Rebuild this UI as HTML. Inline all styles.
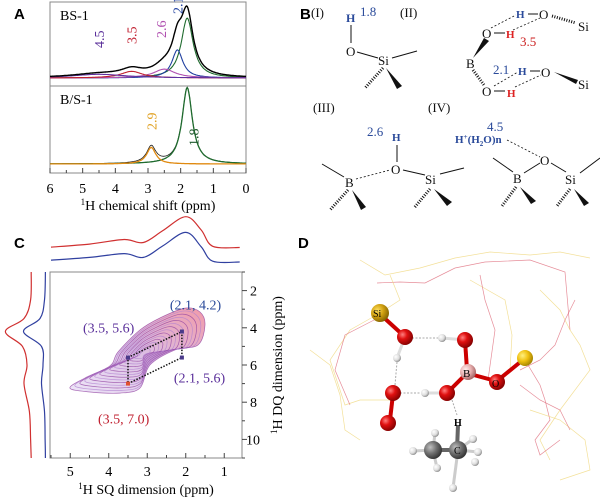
<!DOCTYPE html>
<html><head><meta charset="utf-8"><style>
html,body{margin:0;padding:0;background:#fff;}
svg{display:block;font-family:"Liberation Serif",serif;}
.pl{font-family:"Liberation Sans",sans-serif;font-weight:bold;font-size:15px;}
</style></head><body>
<svg id="fig" width="600" height="500" viewBox="0 0 600 500" xmlns="http://www.w3.org/2000/svg">
<defs>
 <radialGradient id="gRed" cx="0.35" cy="0.35" r="0.7"><stop offset="0" stop-color="#ff8080"/><stop offset="0.4" stop-color="#e01010"/><stop offset="1" stop-color="#800000"/></radialGradient>
 <radialGradient id="gGold" cx="0.35" cy="0.35" r="0.7"><stop offset="0" stop-color="#ffe060"/><stop offset="0.5" stop-color="#d0a010"/><stop offset="1" stop-color="#806000"/></radialGradient>
 <radialGradient id="gYel" cx="0.35" cy="0.35" r="0.7"><stop offset="0" stop-color="#fff080"/><stop offset="0.5" stop-color="#f0c010"/><stop offset="1" stop-color="#a08000"/></radialGradient>
 <radialGradient id="gPink" cx="0.35" cy="0.35" r="0.7"><stop offset="0" stop-color="#fff0f0"/><stop offset="0.5" stop-color="#e8b0b0"/><stop offset="1" stop-color="#a06060"/></radialGradient>
 <radialGradient id="gGray" cx="0.35" cy="0.35" r="0.7"><stop offset="0" stop-color="#c0c0c0"/><stop offset="0.5" stop-color="#707070"/><stop offset="1" stop-color="#303030"/></radialGradient>
 <radialGradient id="gWhite" cx="0.35" cy="0.35" r="0.7"><stop offset="0" stop-color="#fff"/><stop offset="0.6" stop-color="#ddd"/><stop offset="1" stop-color="#888"/></radialGradient>
</defs>
<text class="pl" x="14" y="19">A</text>
<text class="pl" x="300" y="19">B</text>
<text class="pl" x="14" y="248">C</text>
<text class="pl" x="298" y="248">D</text>

<g id="panelA"></g>
<g id="panelC"></g>

<g font-size="13" fill="#111" stroke="#111">
 <g>
  <text x="311" y="17" stroke="none">(I)</text>
  <text x="346" y="22" stroke="none" fill="#2a4a9a" font-weight="bold" font-size="12">H</text>
  <text x="360" y="16" stroke="none" fill="#2a4a9a">1.8</text>
  <line x1="351" y1="25" x2="351" y2="43"/>
  <text x="346" y="56" stroke="none">O</text>
  <line x1="357" y1="52" x2="378" y2="58"/>
  <text x="378" y="65" stroke="none">Si</text>
  <line x1="392" y1="58" x2="417" y2="51"/>
  <line x1="383" y1="68" x2="365" y2="88" stroke-dasharray="1 1.5" stroke-width="3"/>
  <polygon points="386,68 397,89 402,86" stroke="none"/>
 </g>
 <g>
  <text x="400" y="17" stroke="none">(II)</text>
  <text x="516" y="18" stroke="none" fill="#2a4a9a" font-weight="bold" font-size="11">H</text>
  <line x1="528" y1="14" x2="538" y2="14"/>
  <text x="539" y="19" stroke="none">O</text>
  <line x1="552" y1="16" x2="576" y2="23" stroke-dasharray="1 1.5" stroke-width="3"/>
  <text x="578" y="31" stroke="none">Si</text>
  <text x="482" y="38" stroke="none">O</text>
  <line x1="494" y1="33" x2="505" y2="33"/>
  <text x="506" y="38" stroke="none" fill="#d22" font-weight="bold" font-size="11">H</text>
  <text x="520" y="46" stroke="none" fill="#c22">3.5</text>
  <text x="466" y="68" stroke="none">B</text>
  <polygon points="473,58 484,38 489,41" stroke="none"/>
  <line x1="473" y1="70" x2="484" y2="85" stroke-dasharray="1 1.5" stroke-width="3"/>
  <text x="493" y="74" stroke="none" fill="#2a4a9a">2.1</text>
  <text x="518" y="75" stroke="none" fill="#2a4a9a" font-weight="bold" font-size="11">H</text>
  <line x1="530" y1="71" x2="540" y2="71"/>
  <text x="541" y="77" stroke="none">O</text>
  <polygon points="554,72 578,80 576,84" stroke="none"/>
  <text x="578" y="89" stroke="none">Si</text>
  <text x="482" y="96" stroke="none">O</text>
  <line x1="494" y1="91" x2="505" y2="91"/>
  <text x="507" y="97" stroke="none" fill="#d22" font-weight="bold" font-size="11">H</text>
  <g stroke-dasharray="2 2" stroke-width="0.8">
   <line x1="491" y1="28" x2="516" y2="15"/>
   <line x1="513" y1="30" x2="540" y2="18"/>
   <line x1="494" y1="86" x2="518" y2="72"/>
   <line x1="515" y1="87" x2="541" y2="75"/>
  </g>
 </g>
 <g>
  <text x="313" y="112" stroke="none">(III)</text>
  <text x="367" y="136" stroke="none" fill="#2a4a9a">2.6</text>
  <text x="392" y="141" stroke="none" fill="#2a4a9a" font-weight="bold" font-size="11">H</text>
  <line x1="397" y1="145" x2="397" y2="162"/>
  <text x="391" y="174" stroke="none">O</text>
  <text x="345" y="187" stroke="none">B</text>
  <text x="425" y="184" stroke="none">Si</text>
  <line x1="322" y1="164" x2="344" y2="177"/>
  <line x1="356" y1="179" x2="390" y2="170" stroke-dasharray="2 2" stroke-width="0.8"/>
  <line x1="403" y1="170" x2="425" y2="175"/>
  <line x1="440" y1="174" x2="464" y2="168"/>
  <line x1="348" y1="190" x2="330" y2="210" stroke-dasharray="1 1.5" stroke-width="3"/>
  <polygon points="352,190 361,210 366,207" stroke="none"/>
  <line x1="430" y1="189" x2="414" y2="208" stroke-dasharray="1 1.5" stroke-width="3"/>
  <polygon points="434,189 447,206 452,202" stroke="none"/>
 </g>
 <g>
  <text x="428" y="112" stroke="none">(IV)</text>
  <text x="487" y="131" stroke="none" fill="#2a4a9a">4.5</text>
  <text x="455" y="143" stroke="none" fill="#2a4a9a" font-weight="bold" font-size="11">H<tspan font-size="7" dy="-4">+</tspan><tspan dy="4">(H</tspan><tspan font-size="7" dy="3">2</tspan><tspan dy="-3">O)n</tspan></text>
  <line x1="507" y1="140" x2="540" y2="157" stroke-dasharray="2 2" stroke-width="0.8"/>
  <text x="540" y="165" stroke="none">O</text>
  <text x="513" y="183" stroke="none">B</text>
  <text x="565" y="184" stroke="none">Si</text>
  <line x1="493" y1="158" x2="513" y2="172"/>
  <line x1="524" y1="173" x2="540" y2="163"/>
  <line x1="551" y1="163" x2="566" y2="172"/>
  <line x1="580" y1="173" x2="600" y2="158"/>
  <line x1="516" y1="187" x2="502" y2="206" stroke-dasharray="1 1.5" stroke-width="3"/>
  <polygon points="520,187 531,204 536,201" stroke="none"/>
  <line x1="570" y1="189" x2="557" y2="206" stroke-dasharray="1 1.5" stroke-width="3"/>
  <polygon points="574,189 584,206 589,203" stroke="none"/>
 </g>
</g>

<g>
 <g fill="none" stroke-width="0.7" stroke-opacity="0.8">
  <polyline stroke="#f0d880" points="360,260 385,275 420,268 455,258 490,252 530,255 560,252 590,258"/>
  <polyline stroke="#e07080" points="377,283 400,282 425,283 455,268 485,262 530,260 565,272 570,330"/>
  <polyline stroke="#f0d880" points="390,275 400,300 380,313 350,330 330,360 345,405 360,400 395,400"/>
  <polyline stroke="#e07080" points="378,318 345,335 335,370 350,405"/>
  <polyline stroke="#f0d880" points="470,280 505,300 512,335 510,370"/>
  <polyline stroke="#e07080" points="480,275 485,300 495,330 488,380"/>
  <polyline stroke="#f0d880" points="540,290 560,310 570,330 580,345 590,370 560,410 540,440 550,460"/>
  <polyline stroke="#e07080" points="525,360 540,385 545,400 550,420 535,440 540,455 560,440"/>
  <polyline stroke="#f0d880" points="310,350 330,365 340,395 345,430 360,440"/>
  <polyline stroke="#e07080" points="575,300 565,320 555,345 540,360 520,370"/>
  <polyline stroke="#f0d880" points="530,410 560,420 585,440 590,470 560,480"/>
  <polyline stroke="#e07080" points="520,385 540,400 560,410 570,430"/>
 </g>
 <g stroke="#aaa" stroke-dasharray="2 1.5" stroke-width="1">
  <line x1="412" y1="338" x2="440" y2="338"/><line x1="397" y1="362" x2="395" y2="385"/>
  <line x1="400" y1="393" x2="420" y2="393"/><line x1="452" y1="400" x2="457" y2="415"/>
 </g>
 <g stroke="#c00" stroke-width="4">
  <line x1="381" y1="315" x2="404" y2="336"/><line x1="465" y1="340" x2="467" y2="370"/>
  <line x1="468" y1="372" x2="448" y2="392"/><line x1="470" y1="374" x2="496" y2="381"/>
  <line x1="393" y1="394" x2="390" y2="420"/><line x1="497" y1="381" x2="524" y2="359"/>
  <line x1="405" y1="337" x2="397" y2="358" stroke="#ddd" stroke-width="3"/>
  <line x1="465" y1="340" x2="442" y2="338" stroke="#ddd" stroke-width="3"/>
  <line x1="447" y1="393" x2="425" y2="393" stroke="#ddd" stroke-width="3"/>
 </g>
 <g stroke="#666" stroke-width="4"><line x1="434" y1="450" x2="458" y2="450"/><line x1="457" y1="450" x2="458" y2="425"/></g>
 <g stroke="#ccc" stroke-width="3"><line x1="433" y1="450" x2="413" y2="451"/><line x1="433" y1="450" x2="437" y2="468"/><line x1="458" y1="450" x2="478" y2="452"/><line x1="458" y1="450" x2="453" y2="488"/><line x1="433" y1="450" x2="435" y2="433"/><line x1="458" y1="450" x2="473" y2="439"/></g>
 <circle cx="380" cy="313" r="9" fill="url(#gGold)"/>
 <text x="373" y="317" font-size="10">Si</text>
 <circle cx="405" cy="337" r="8" fill="url(#gRed)"/>
 <circle cx="442" cy="338" r="4" fill="url(#gWhite)"/>
 <circle cx="465" cy="340" r="8" fill="url(#gRed)"/>
 <circle cx="397" cy="358" r="4" fill="url(#gWhite)"/>
 <circle cx="468" cy="372" r="8" fill="url(#gPink)"/>
 <text x="463" y="377" font-size="11">B</text>
 <circle cx="497" cy="382" r="8" fill="url(#gRed)"/>
 <text x="492" y="387" font-size="10">O</text>
 <circle cx="525" cy="358" r="8" fill="url(#gYel)"/>
 <circle cx="393" cy="393" r="8" fill="url(#gRed)"/>
 <circle cx="425" cy="393" r="4" fill="url(#gWhite)"/>
 <circle cx="447" cy="393" r="8" fill="url(#gRed)"/>
 <circle cx="388" cy="423" r="8" fill="url(#gRed)"/>
 <text x="454" y="426" font-size="10" font-weight="bold">H</text>
 <g fill="url(#gWhite)"><circle cx="413" cy="451" r="4"/><circle cx="437" cy="468" r="4"/><circle cx="453" cy="488" r="4"/><circle cx="478" cy="452" r="4"/><circle cx="475" cy="462" r="4"/><circle cx="435" cy="433" r="4"/><circle cx="473" cy="439" r="4"/></g>
 <circle cx="433" cy="450" r="9" fill="url(#gGray)"/>
 <circle cx="458" cy="450" r="9" fill="url(#gGray)"/>
 <text x="454" y="454" font-size="10">C</text>
</g>
</svg>

<script>
const NS="http://www.w3.org/2000/svg";
function mk(p,tag,at,txt){const e=document.createElementNS(NS,tag);for(const k in at)e.setAttribute(k,at[k]);if(txt!==undefined)e.textContent=txt;p.appendChild(e);return e;}
function smooth(pts,closed){
  const n=pts.length;let d="M"+pts[0][0].toFixed(1)+","+pts[0][1].toFixed(1);
  const g=i=>closed?pts[(i+n)%n]:pts[Math.max(0,Math.min(n-1,i))];
  const m=closed?n:n-1;
  for(let i=0;i < m;i++){const p0=g(i-1),p1=g(i),p2=g(i+1),p3=g(i+2);
    const c1=[p1[0]+(p2[0]-p0[0])/6,p1[1]+(p2[1]-p0[1])/6],c2=[p2[0]-(p3[0]-p1[0])/6,p2[1]-(p3[1]-p1[1])/6];
    d+="C"+c1[0].toFixed(1)+","+c1[1].toFixed(1)+" "+c2[0].toFixed(1)+","+c2[1].toFixed(1)+" "+p2[0].toFixed(1)+","+p2[1].toFixed(1);}
  return d+(closed?"Z":"");
}

// ---------- Panel A data ----------
const shiftTicks=[6,5,4,3,2,1,0];
const topPeakCenters=[1.8,2.1,2.5,3.5,4.5];
const topPeakHeights=[0.81,0.38,0.12,0.09,0.05];
const topPeakWidths=[0.22,0.2,0.4,0.4,1.0];
const topPeakColors=["#1f6b2e","#2040a0","#b050b0","#c02030","#6030a0"];
const botPeakCenters=[1.8,2.9];
const botPeakHeights=[0.92,0.2];
const botPeakWidths=[0.19,0.17];
const botPeakColors=["#1f6b2e","#e08a10"];
const topLabels=["4.5","3.5","2.6","2.1"];
const topLabelPos=[4.5,3.5,2.6,2.1];
const topLabelColors=["#5a2f9a","#c02030","#b050b0","#2040a0"];

const A=document.getElementById('panelA');
const ax0=50,ax1=246;
const xA=v=>ax0+(6-v)/6*(ax1-ax0);
const yTop=v=>78-v*74, yBot=v=>164-v*83;
const lor=(x,c,h,w)=>h*w*w/((x-c)*(x-c)+w*w);
function curve(fn,yf,col,name,sw){
  let d="";for(let i=0;i<=240;i++){const v=6-i*6/240;d+=(i?"L":"M")+xA(v).toFixed(1)+","+yf(fn(v)).toFixed(1);}
  const p=mk(A,'path',{d:d,fill:"none",stroke:col,"stroke-width":sw||1.1});
  
  
}
mk(A,'rect',{x:ax0,y:2,width:ax1-ax0,height:171,fill:"none",stroke:"#888","stroke-width":1});
mk(A,'line',{x1:ax0,y1:86,x2:ax1,y2:86,stroke:"#888"});
topPeakCenters.forEach((c,i)=>curve(v=>lor(v,c,topPeakHeights[i],topPeakWidths[i]),yTop,topPeakColors[i],'top-component-'+c));
curve(v=>topPeakCenters.reduce((s,c,i)=>s+lor(v,c,topPeakHeights[i],topPeakWidths[i]),0),yTop,"#000",'bs-1-spectrum',1.4);
curve(v=>botPeakCenters.reduce((s,c,i)=>s+lor(v,c,botPeakHeights[i],botPeakWidths[i]),0),yBot,"#222",'bs1-spectrum',0.8);
botPeakCenters.forEach((c,i)=>curve(v=>lor(v,c,botPeakHeights[i],botPeakWidths[i]),yBot,botPeakColors[i],'bottom-component-'+c,1.3));
let t=mk(A,'text',{x:60,y:20,"font-size":14},"BS-1");
t=mk(A,'text',{x:60,y:104,"font-size":14},"B/S-1");
const topLabelY=[48,44,38,14];
topLabels.forEach((s,i)=>{const x=xA(topLabelPos[i])+5;const e=mk(A,'text',{x:x,y:topLabelY[i],"font-size":14,fill:topLabelColors[i],transform:`rotate(-90 ${x} ${topLabelY[i]})`},s);
 });
[["2.9",2.9,130,"#e0a020"],["1.8",1.6,146,"#1f5b2e"]].forEach(a=>{const x=xA(a[1])+5;const e=mk(A,'text',{x:x,y:a[2],"font-size":14,fill:a[3],transform:`rotate(-90 ${x} ${a[2]})`},a[0]);
 });
for(let v=0;v<=6;v+=0.5){mk(A,'line',{x1:xA(v),y1:173,x2:xA(v),y2:v%1?170:168,stroke:"#444"});}
shiftTicks.forEach(v=>{const e=mk(A,'text',{x:xA(v),y:193,"font-size":14,"text-anchor":"middle"},String(v));
 });
t=mk(A,'text',{x:148,y:210,"font-size":14,"text-anchor":"middle"});t.innerHTML='<tspan font-size="9" dy="-5">1</tspan><tspan dy="5">H chemical shift (ppm)</tspan>';


// ---------- Panel C data ----------
const sqTicks=[5,4,3,2,1];
const dqTicks=[2,4,6,8,10];
const contourSQ=[5.01,4.62,3.97,3.76,3.19,2.67,2.02,1.63,1.50,1.68,2.28,2.93,3.19,3.71,4.49];
const contourDQ=[7.24,6.70,6.05,5.30,4.12,3.47,2.94,3.15,3.85,4.92,5.19,6.00,7.24,7.51,7.45];
const corrSQ=[3.5,2.1,2.1,3.5];
const corrDQ=[5.6,4.2,5.6,7.0];
const corrLabels=["(3.5, 5.6)","(2.1, 4.2)","(2.1, 5.6)","(3.5, 7.0)"];
const projSQ=[5.5,4.5,3.6,3.1,2.6,2.0,1.6,1.3,0.6];
const projSQRed=[0.05,0.13,0.25,0.17,0.48,0.85,0.50,0.07,0.04];
const projSQBlue=[0.05,0.12,0.22,0.12,0.42,0.78,0.40,0.02,0.0];
const projDQ=[1,2.5,3.5,4.2,5.0,6.0,7.0,8.5,10,11];
const projDQRed=[0.06,0.08,0.3,0.92,0.35,0.2,0.3,0.12,0.08,0.06];
const projDQBlue=[0.02,0.05,0.2,0.75,0.15,0.1,0.15,0.05,0.03,0.02];

const C=document.getElementById('panelC');
const xC=v=>51+(5.5-v)*38.5, yC=v=>272+(v-1)*18.6;
const pb=[50,272,242,458];
const defsC=mk(C,'defs',{});
const lg=mk(defsC,'linearGradient',{id:"cg",x1:"0",y1:"1",x2:"1",y2:"0"});
mk(lg,'stop',{offset:"0","stop-color":"#d8c8f0"});mk(lg,'stop',{offset:"0.5","stop-color":"#b070c0"});mk(lg,'stop',{offset:"1","stop-color":"#e02040"});
const cx=contourSQ.reduce((a,b)=>a+b)/contourSQ.length, cy=contourDQ.reduce((a,b)=>a+b)/contourDQ.length;
for(let k=0;k<14;k++){const s=1-k*0.068;
 const pts=contourSQ.map((v,i)=>[xC(cx+(v-cx)*s),yC(cy+(contourDQ[i]-cy)*s)]);
 const p=mk(C,'path',{d:smooth(pts,true),fill:k==0?"url(#cg)":"none","fill-opacity":k==0?0.45:0,stroke:k%2?"#b080d0":"#9040a0","stroke-width":0.7,"stroke-opacity":0.75});
 }
mk(C,'rect',{x:pb[0],y:pb[1],width:pb[2]-pb[0],height:pb[3]-pb[1],fill:"none",stroke:"#888"});
let e=mk(C,'path',{d:"M"+xC(corrSQ[0])+","+yC(corrDQ[0])+"L"+xC(corrSQ[1])+","+yC(corrDQ[1])+"L"+xC(corrSQ[2])+","+yC(corrDQ[2])+"L"+xC(corrSQ[3])+","+yC(corrDQ[3])+"Z",fill:"none",stroke:"#111","stroke-dasharray":"1.5 1.5","stroke-width":1.5});

const lcol=["#5a2f9a","#2a4a9a","#5a2f9a","#c02030"];
const lpos=[[-45,-25],[-12,-22],[-8,25],[-30,40]];
corrSQ.forEach((v,i)=>{const pe=mk(C,'rect',{x:xC(v)-2,y:yC(corrDQ[i])-2,width:4,height:4,fill:i==3?"#e05030":"#4a3a8a"});
 
 const te=mk(C,'text',{x:xC(v)+lpos[i][0],y:yC(corrDQ[i])+lpos[i][1],"font-size":14,fill:lcol[i]},corrLabels[i]);
 });
function line(xs,ys,col,name){
 const p=mk(C,'path',{d:smooth(xs.map((x,i)=>[x,ys[i]]),false),fill:"none",stroke:col,"stroke-width":1.2});
 }
line(projSQ.map(xC),projSQRed.map(v=>249-v*38),"#d03030",'sq-projection-red');
line(projSQ.map(xC),projSQBlue.map(v=>262-v*38),"#3040a0",'sq-projection-blue');
line(projDQRed.map(v=>33-v*30),projDQ.map(yC),"#d03030",'dq-projection-red');
line(projDQBlue.map(v=>46-v*30),projDQ.map(yC),"#3040a0",'dq-projection-blue');
for(let v=1;v<=5.5;v+=0.5){mk(C,'line',{x1:xC(v),y1:458,x2:xC(v),y2:v%1?455:453,stroke:"#444"});}
sqTicks.forEach(v=>{const t=mk(C,'text',{x:xC(v),y:476,"font-size":14,"text-anchor":"middle"},String(v));});
for(let v=1;v<=11;v+=1){mk(C,'line',{x1:242,y1:yC(v),x2:v%2?245:247,y2:yC(v),stroke:"#444"});}
dqTicks.forEach(v=>{const t=mk(C,'text',{x:v==10?246:250,y:yC(v)+5,"font-size":14},String(v));});
t=mk(C,'text',{x:146,y:494,"font-size":14,"text-anchor":"middle"});t.innerHTML='<tspan font-size="9" dy="-5">1</tspan><tspan dy="5">H SQ dimension (ppm)</tspan>';

t=mk(C,'text',{x:0,y:0,"font-size":14,"text-anchor":"middle",transform:"translate(282 365) rotate(-90)"});t.innerHTML='<tspan font-size="9" dy="-5">1</tspan><tspan dy="5">H DQ dimension (ppm)</tspan>';

</script>
</body></html>
